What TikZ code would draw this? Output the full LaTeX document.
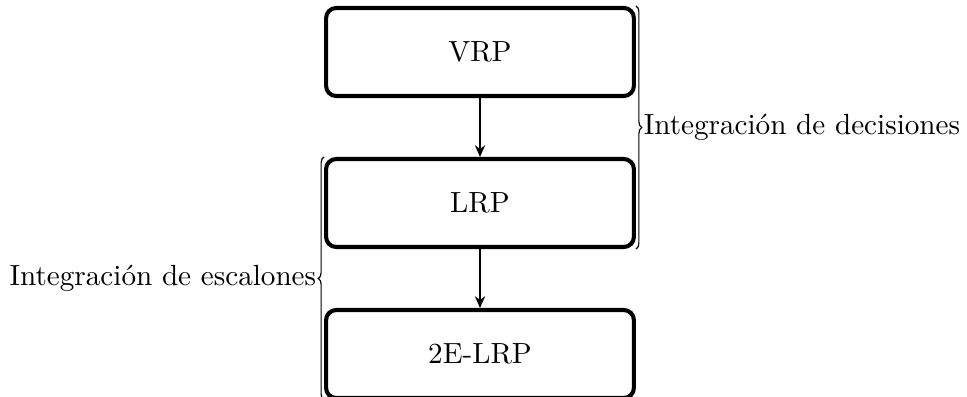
\documentclass[tikz,border=0pt]{standalone}
\usetikzlibrary{decorations.pathreplacing,arrows.meta}
\begin{document}
\begin{tikzpicture}[x=0.343pt,y=-0.343pt,
  probbox/.style={draw,line width=1.4pt,rounded corners=3.5pt,minimum width=105.6pt,minimum height=30.2pt,inner sep=0pt},
  flow/.style={line width=0.6pt,-{Stealth[length=4pt,width=3.5pt]}},
  bracedeco/.style={decorate,line width=0.4pt,decoration={brace,amplitude=2pt}}]
\useasboundingbox (0,0) rectangle (967,396);
\node[probbox] (vrp) at (480,52) {VRP};
\node[probbox] (lrp) at (480,203) {LRP};
\node[probbox] (elrp) at (480,354) {2E-LRP};
\draw[flow] (vrp) -- (lrp);
\draw[flow] (lrp) -- (elrp);
\draw[bracedeco] (vrp.north east) -- (lrp.south east) node[midway,anchor=west,xshift=2.5pt,inner sep=0pt] (ld) {Integración de decisiones};
\draw[bracedeco] (elrp.south west) -- (lrp.north west) node[midway,anchor=east,xshift=-2.5pt,inner sep=0pt] (le) {Integración de escalones};
\end{tikzpicture}
\end{document}
